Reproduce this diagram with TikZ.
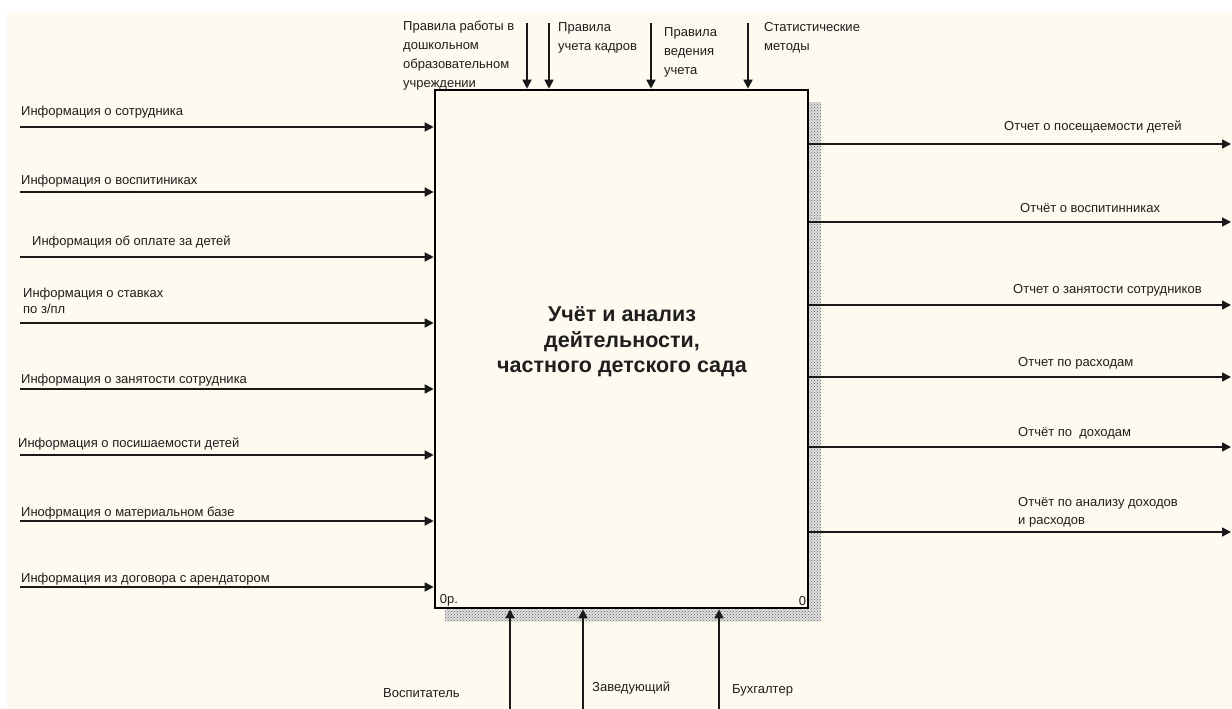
\documentclass[tikz,border=0pt]{standalone}
\usepackage{fontspec}
\setmainfont{Liberation Sans}
\usepackage{tikz}
\usetikzlibrary{arrows.meta, positioning, patterns}
\definecolor{paper}{RGB}{255,250,239}
\definecolor{ink}{RGB}{30,30,30}
\tikzset{
  funcbox/.style={rectangle, draw=black, line width=2.6pt, fill=paper,
                  minimum width=373pt, minimum height=518pt, inner sep=0pt},
  hatchshadow/.style={fill=black!12, postaction={pattern=crosshatch dots, pattern color=black!65}},
  boxtitle/.style={font=\fontsize{21.5}{25.5}\selectfont\bfseries, align=center, text=ink, inner sep=0pt},
  lbl/.style={font=\fontsize{13}{15.5}\selectfont, text=ink, inner sep=0pt, align=left},
  toplbl/.style={lbl, font=\fontsize{13}{19}\selectfont, anchor=north west},
  arrow/.style={-{Triangle[length=9pt, width=9pt]}, line width=1.7pt, black!90},
}

\begin{document}
\begin{tikzpicture}[x=1pt, y=-1pt]

  \useasboundingbox (0,0) rectangle (1232,709);
  \fill[paper] (7,12) rectangle (1232,709);

  % --- Shadow and function block ---
  \fill[hatchshadow] (445,102) rectangle (821,621);
  \node[funcbox] (box) at (621.5,349) {};
  \node[boxtitle] (title) at (622,342) {Учёт и анализ\\ дейтельности,\\ частного детского сада};
  \node[lbl, anchor=south west] (boxid)  at ([xshift=6pt, yshift=3pt]box.south west) {0р.};
  \node[lbl, anchor=south east] (boxnum) at ([xshift=-3pt, yshift=3pt]box.south east) {0};

  % --- Controls (top) ---
  \coordinate (ct1) at (527,23);
  \coordinate (ct2) at (549,23);
  \coordinate (ct3) at (651,23);
  \coordinate (ct4) at (748,23);
  \node[toplbl] (ctl1) at (403,21) {Правила работы в\\ дошкольном\\ образовательном\\ учреждении};
  \node[toplbl] (ctl2) at (558,22) {Правила\\ учета кадров};
  \node[toplbl] (ctl3) at (664,27) {Правила\\ ведения\\ учета};
  \node[toplbl] (ctl4) at (764,22) {Статистические\\ методы};
  \draw[arrow] (ct1) -- (ct1 |- box.north);
  \draw[arrow] (ct2) -- (ct2 |- box.north);
  \draw[arrow] (ct3) -- (ct3 |- box.north);
  \draw[arrow] (ct4) -- (ct4 |- box.north);

  % --- Inputs (left) ---
  \coordinate (in1) at (20,127);
  \coordinate (in2) at (20,192);
  \coordinate (in3) at (20,257);
  \coordinate (in4) at (20,323);
  \coordinate (in5) at (20,389);
  \coordinate (in6) at (20,455);
  \coordinate (in7) at (20,521);
  \coordinate (in8) at (20,587);
  \node[lbl, anchor=west] (inl1) at (21,112) {Информация о сотрудника};
  \node[lbl, anchor=west] (inl2) at (21,181) {Информация о воспитиниках};
  \node[lbl, anchor=west] (inl3) at (32,242) {Информация об оплате за детей};
  \node[lbl, anchor=north west] (inl4) at (23,288) {Информация о ставках\\ по з/пл};
  \node[lbl, anchor=west] (inl5) at (21,380) {Информация о занятости сотрудника};
  \node[lbl, anchor=west] (inl6) at (18,444) {Информация о посишаемости детей};
  \node[lbl, anchor=west] (inl7) at (21,513) {Инофрмация о материальном базе};
  \node[lbl, anchor=west] (inl8) at (21,579) {Информация из договора с арендатором};
  \draw[arrow] (in1) -- (in1 -| box.west);
  \draw[arrow] (in2) -- (in2 -| box.west);
  \draw[arrow] (in3) -- (in3 -| box.west);
  \draw[arrow] (in4) -- (in4 -| box.west);
  \draw[arrow] (in5) -- (in5 -| box.west);
  \draw[arrow] (in6) -- (in6 -| box.west);
  \draw[arrow] (in7) -- (in7 -| box.west);
  \draw[arrow] (in8) -- (in8 -| box.west);

  % --- Outputs (right) ---
  \coordinate (out1) at (1231,144);
  \coordinate (out2) at (1231,222);
  \coordinate (out3) at (1231,305);
  \coordinate (out4) at (1231,377);
  \coordinate (out5) at (1231,447);
  \coordinate (out6) at (1231,532);
  \node[lbl, anchor=west] (outl1) at (1004,127) {Отчет о посещаемости детей};
  \node[lbl, anchor=west] (outl2) at (1020,208) {Отчёт о воспитинниках};
  \node[lbl, anchor=west] (outl3) at (1013,290) {Отчет о занятости сотрудников};
  \node[lbl, anchor=west] (outl4) at (1018,363) {Отчет по расходам};
  \node[lbl, anchor=west] (outl5) at (1018,433) {Отчёт по\ \ доходам};
  \node[lbl, anchor=north west, font=\fontsize{13}{18}\selectfont] (outl6) at (1018,497)
        {Отчёт по анализу доходов\\ и расходов};
  \draw[arrow] (out1 -| box.east) -- (out1);
  \draw[arrow] (out2 -| box.east) -- (out2);
  \draw[arrow] (out3 -| box.east) -- (out3);
  \draw[arrow] (out4 -| box.east) -- (out4);
  \draw[arrow] (out5 -| box.east) -- (out5);
  \draw[arrow] (out6 -| box.east) -- (out6);

  % --- Mechanisms (bottom) ---
  \coordinate (mc1) at (510,709);
  \coordinate (mc2) at (583,709);
  \coordinate (mc3) at (719,709);
  \node[lbl, anchor=west] (mcl1) at (383,693) {Воспитатель};
  \node[lbl, anchor=west] (mcl2) at (592,688) {Заведующий};
  \node[lbl, anchor=west] (mcl3) at (732,690) {Бухгалтер};
  \draw[arrow] (mc1) -- (mc1 |- box.south);
  \draw[arrow] (mc2) -- (mc2 |- box.south);
  \draw[arrow] (mc3) -- (mc3 |- box.south);

\end{tikzpicture}
\end{document}
